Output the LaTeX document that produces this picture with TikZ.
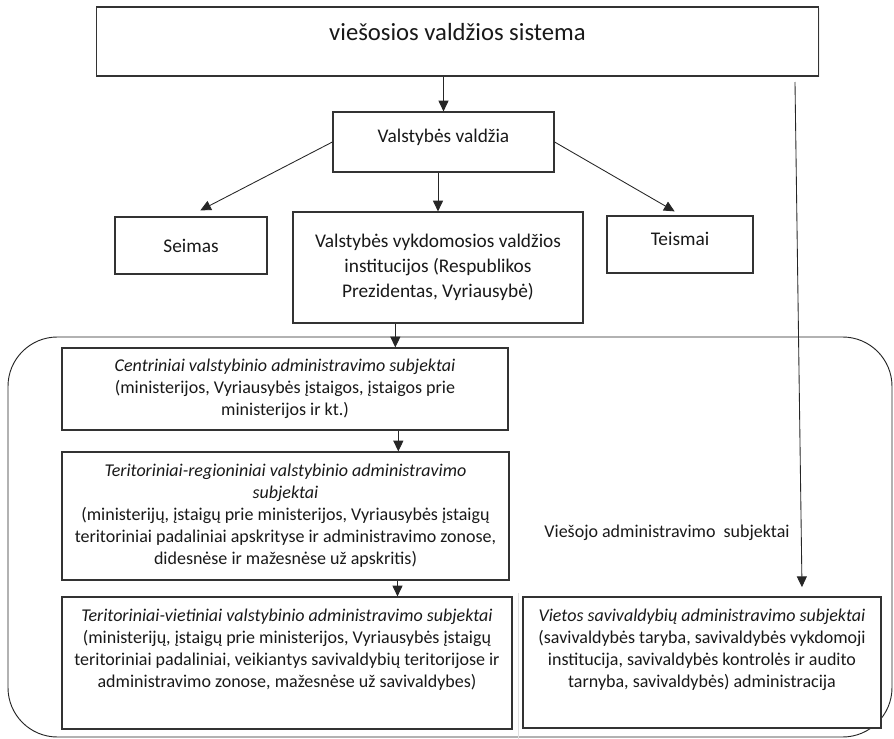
\documentclass[tikz,border=0pt]{standalone}
\usepackage{fontspec}
\setmainfont{Carlito}
\usetikzlibrary{positioning, arrows.meta, shadows}

\begin{document}
\begin{tikzpicture}[x=0.75pt, y=-0.75pt,
    every node/.style={font=\fontsize{13.5}{16.5}\selectfont, text=black!90},
    box/.style={rectangle, draw=black!80, line width=0.9pt, fill=white, align=center, inner sep=0pt,
      drop shadow={opacity=0.12, shadow xshift=1pt, shadow yshift=-1pt}},
    upbox/.style={font=\fontsize{14.5}{19}\selectfont},
    raised/.style={text height=8pt, text depth=7pt},
    arrow/.style={-{Triangle[length=8pt, width=7.5pt]}, line width=0.65pt, draw=black!85}]

  \useasboundingbox (0,0) rectangle (894,739);

  \draw[black!85, line width=0.7pt, rounded corners=37pt] (8,337) rectangle (892,737);
  \draw[black!12, line width=0.6pt] (518,593) -- (518,739);

  \node[box, minimum width=542pt, minimum height=51.75pt] (sistema) at (457.5,41.5) {};
  \node[font=\fontsize{18.5}{22}\selectfont] (sistemat) at (457.5,32) {viešosios valdžios sistema};

  \node[box, upbox, raised, minimum width=165.75pt, minimum height=45pt] (valdzia) at (443.5,142) {Valstybės valdžia};
  \node[box, upbox, minimum width=114pt, minimum height=42.75pt] (seimas) at (191,245.5) {Seimas};
  \node[box, upbox, minimum width=217.5pt, minimum height=83.25pt] (vykd) at (438,267.5) {Valstybės vykdomosios valdžios\\institucijos (Respublikos\\Prezidentas, Vyriausybė)};
  \node[box, upbox, raised, minimum width=109.5pt, minimum height=42.75pt] (teismai) at (680,244.5) {Teismai};

  \node[box, minimum width=334.5pt, minimum height=61.5pt] (centr) at (285,389) {\textit{Centriniai valstybinio administravimo subjektai}\\(ministerijos, Vyriausybės įstaigos, įstaigos prie\\ministerijos ir kt.)};
  \node[box, minimum width=335.25pt, minimum height=96pt] (regio) at (285.5,516) {\textit{Teritoriniai-regioniniai valstybinio administravimo}\\\textit{subjektai}\\(ministerijų, įstaigų prie ministerijos, Vyriausybės įstaigų\\teritoriniai padaliniai apskrityse ir administravimo zonose,\\didesnėse ir mažesnėse už apskritis)};
  \node[box, minimum width=337.5pt, minimum height=99pt] (vietin) at (287,663) {\textit{Teritoriniai-vietiniai valstybinio administravimo subjektai}\\(ministerijų, įstaigų prie ministerijos, Vyriausybės įstaigų\\teritoriniai padaliniai, veikiantys savivaldybių teritorijose ir\\administravimo zonose, mažesnėse už savivaldybes)\\\strut};
  \node[box, minimum width=268.5pt, minimum height=98.25pt] (saviv) at (702,662.5) {\textit{Vietos savivaldybių administravimo subjektai}\\(savivaldybės taryba, savivaldybės vykdomoji\\institucija, savivaldybės kontrolės ir audito\\tarnyba, savivaldybės) administracija\\\strut};

  \node (vies) at (667,533) {Viešojo administravimo\ \ subjektai};

  \coordinate (vstart) at (795,82);

  \draw[arrow] (valdzia.north |- sistema.south) -- (valdzia.north);
  \draw[arrow] (valdzia.west) -- ([shift={(7pt,4.5pt)}]seimas.north);
  \draw[arrow] (vykd.north |- valdzia.south) -- (vykd.north);
  \draw[arrow] (valdzia.east) -- ([shift={(-4pt,3pt)}]teismai.north);
  \draw[arrow] ([xshift=-32pt]vykd.south) -- ([xshift=-32pt]vykd.south |- centr.north);
  \draw[arrow] ([xshift=85pt]centr.south) -- ([xshift=85pt]centr.south |- regio.north);
  \draw[arrow] ([xshift=84pt]regio.south) -- ([xshift=84pt]regio.south |- vietin.north);
  \draw[arrow] (vstart) -- ([shift={(75pt,7pt)}]saviv.north);
\end{tikzpicture}
\end{document}
